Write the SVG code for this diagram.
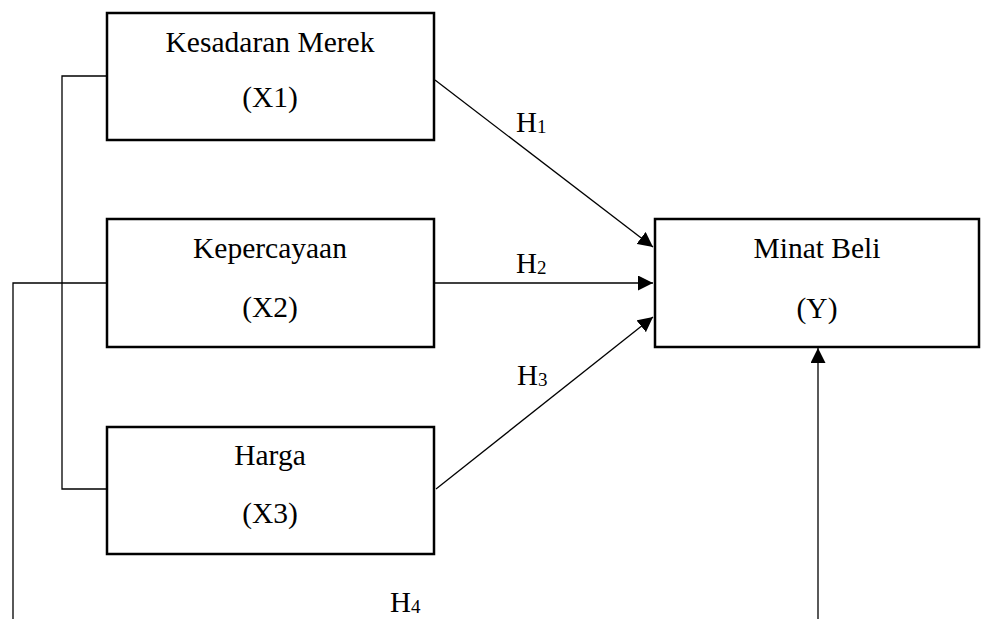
<svg xmlns="http://www.w3.org/2000/svg" width="981" height="619" viewBox="0 0 981 619">
<style>
.box{fill:#fff;stroke:#000;stroke-width:2.5}
.t{font-family:"Liberation Serif","Times New Roman",serif;font-size:29.5px;fill:#000;text-anchor:middle}
.h{font-family:"Liberation Serif","Times New Roman",serif;font-size:29px;fill:#000}
.sub{font-size:19px}
.ln{fill:none;stroke:#000;stroke-width:1.3}
</style>
<defs>
<marker id="arr" viewBox="0 0 10 10" refX="10" refY="5" markerWidth="15" markerHeight="15" markerUnits="userSpaceOnUse" orient="auto">
<path d="M0,0 L10,5 L0,10 Z" fill="#000"/>
</marker>
</defs>
<g id="connectors">
<polyline class="ln" points="107,76 62,76 62,489 107,489"/>
<polyline class="ln" points="107,283 13,283 13,619"/>
<line class="ln" x1="435" y1="80" x2="653" y2="247" marker-end="url(#arr)"/>
<line class="ln" x1="435" y1="283" x2="653" y2="283" marker-end="url(#arr)"/>
<line class="ln" x1="436" y1="489" x2="653" y2="317" marker-end="url(#arr)"/>
<line class="ln" x1="818" y1="619" x2="818" y2="348" marker-end="url(#arr)"/>
<text class="h" x="516" y="132">H<tspan class="sub" dy="1">1</tspan></text>
<text class="h" x="516" y="273">H<tspan class="sub" dy="1">2</tspan></text>
<text class="h" x="517" y="385">H<tspan class="sub" dy="1">3</tspan></text>
<text class="h" x="390" y="612">H<tspan class="sub" dy="1">4</tspan></text>
</g>
<g id="x1">
<rect class="box" x="107" y="13" width="327" height="127"/>
<text class="t" x="270" y="52">Kesadaran Merek</text>
<text class="t" x="270" y="107">(X1)</text>
</g>
<g id="x2">
<rect class="box" x="107" y="219" width="327" height="128"/>
<text class="t" x="270" y="258">Kepercayaan</text>
<text class="t" x="270" y="317">(X2)</text>
</g>
<g id="x3">
<rect class="box" x="107" y="427" width="327" height="127"/>
<text class="t" x="270" y="465">Harga</text>
<text class="t" x="270" y="523">(X3)</text>
</g>
<g id="y">
<rect class="box" x="655" y="219" width="324" height="128"/>
<text class="t" x="817" y="258">Minat Beli</text>
<text class="t" x="817" y="318">(Y)</text>
</g>
</svg>
